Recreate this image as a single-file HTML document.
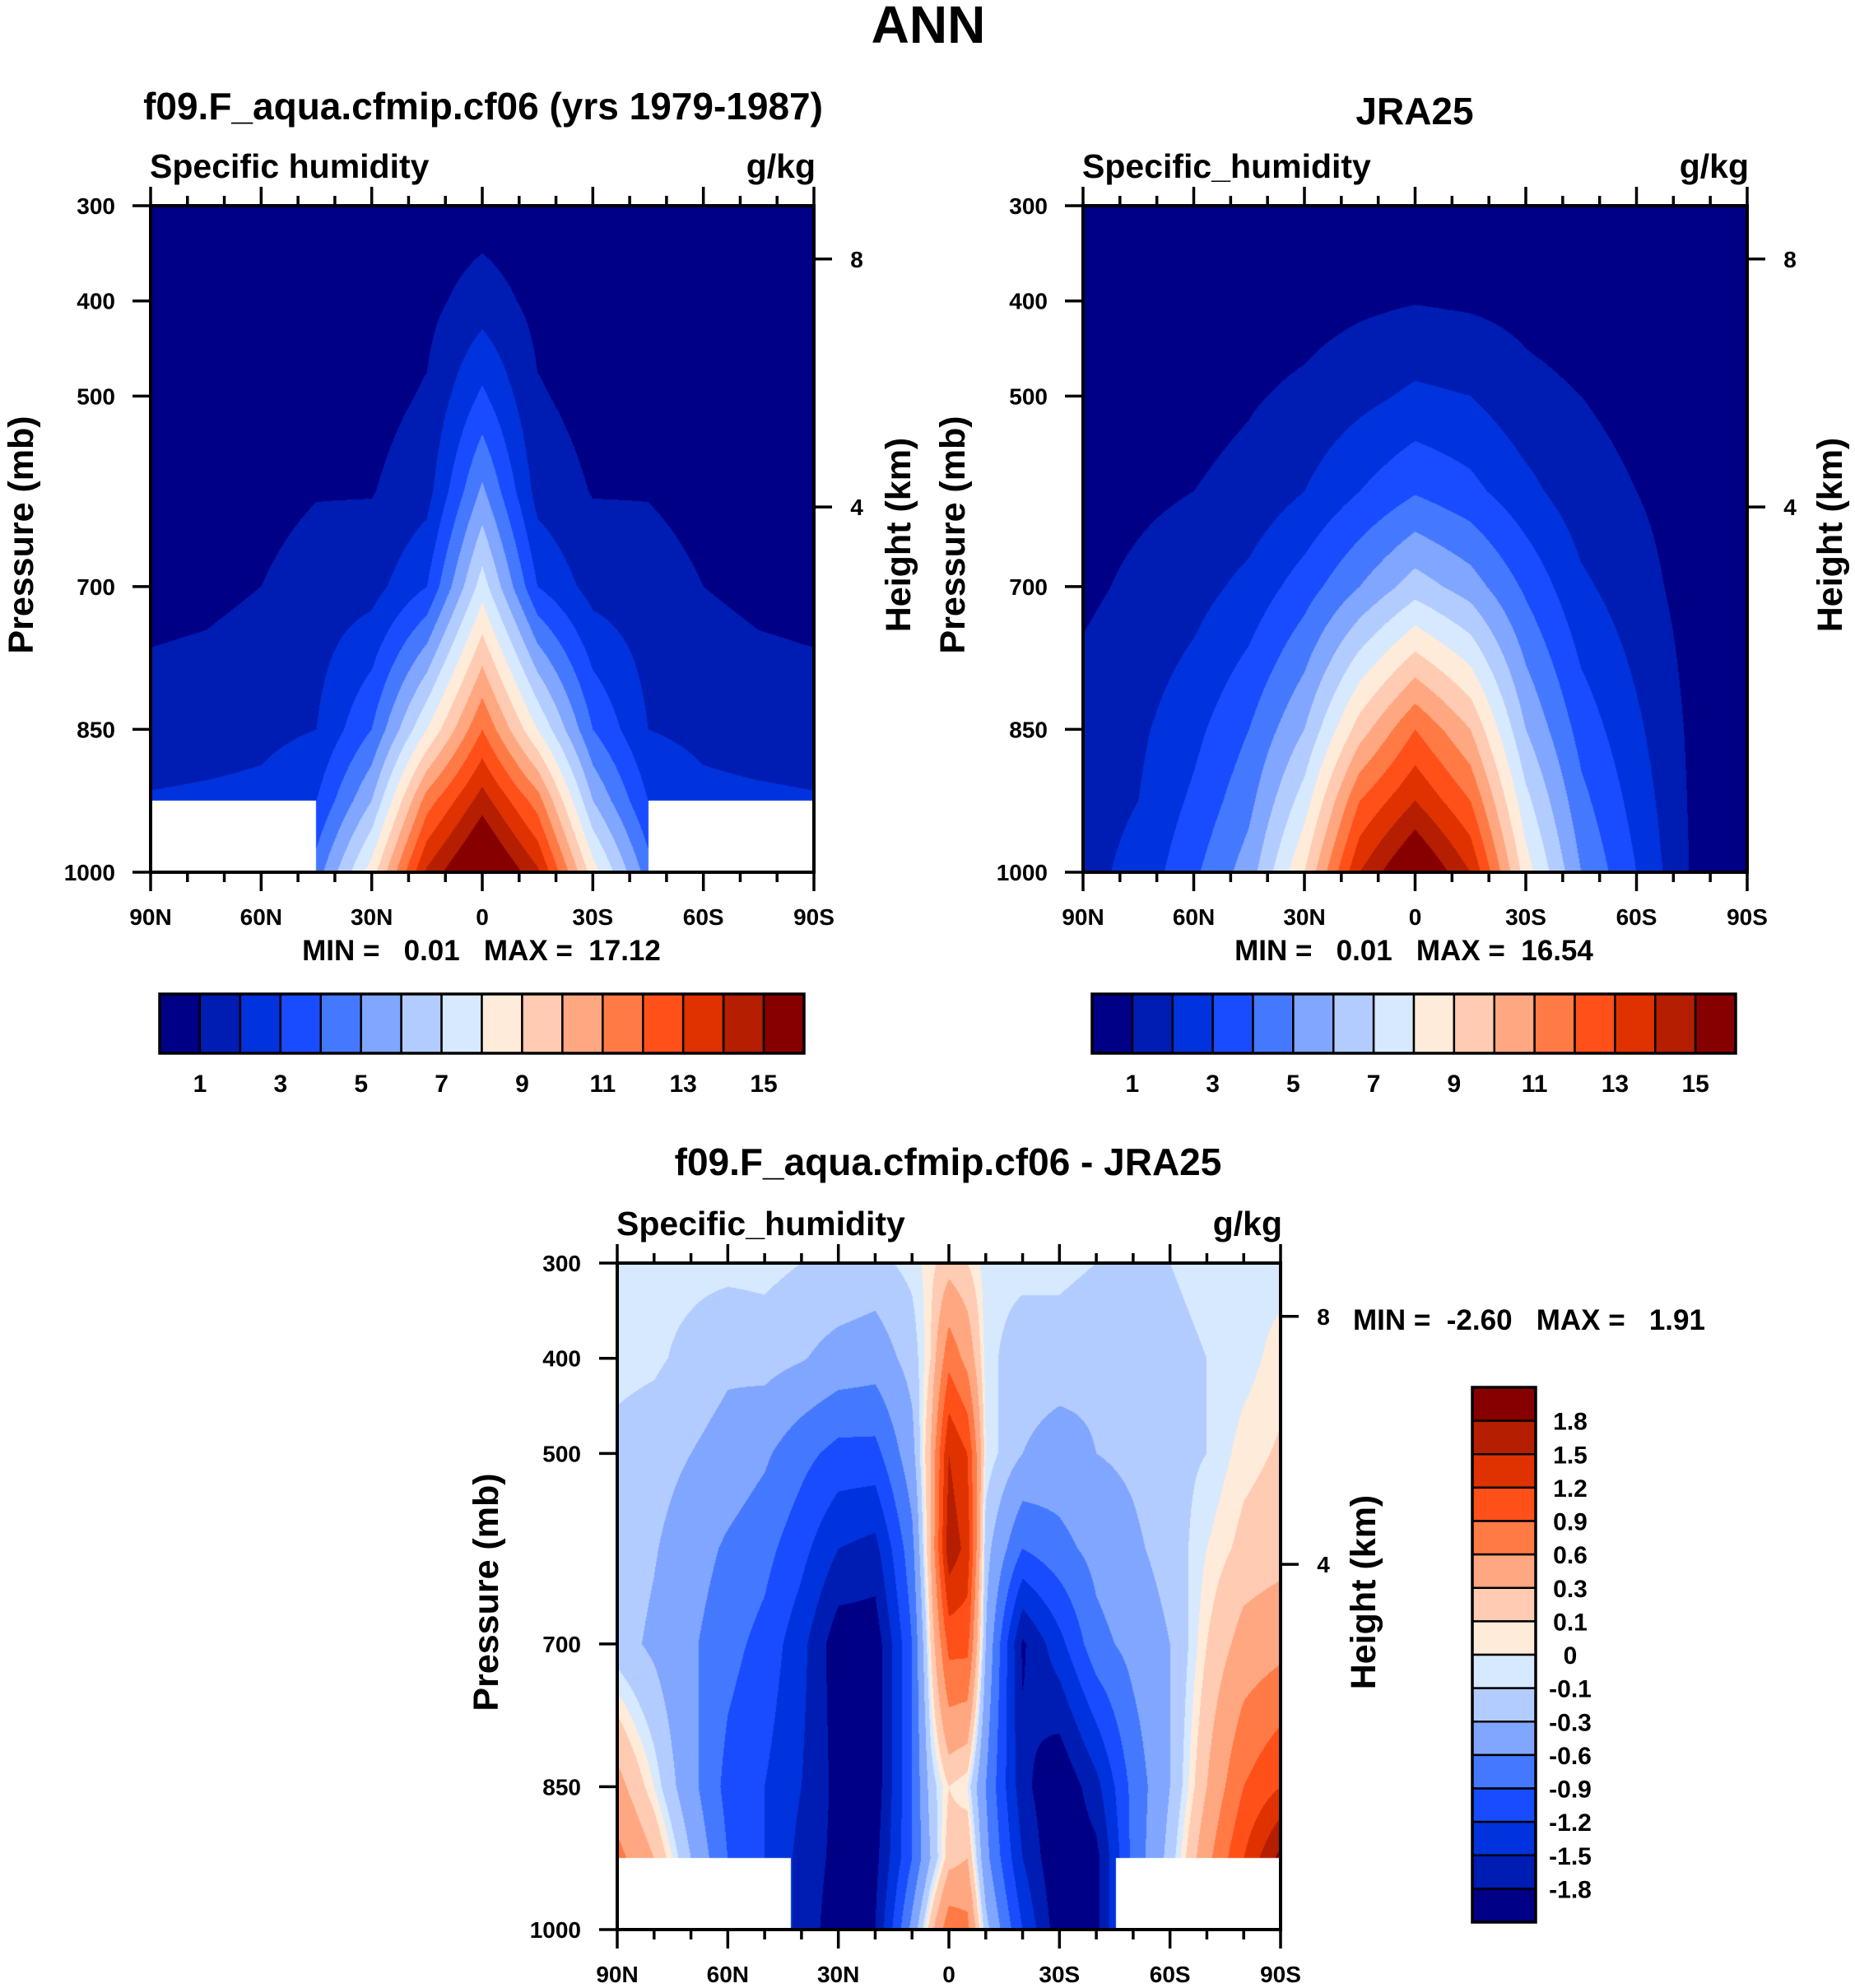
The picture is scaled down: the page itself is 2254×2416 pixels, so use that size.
<!DOCTYPE html>
<html><head><meta charset="utf-8"><title>ANN Specific humidity</title>
<style>
html,body{margin:0;padding:0;background:#fff;}
#root{position:relative;width:2254px;height:2416px;overflow:hidden;background:#fff;}
canvas{position:absolute;}
svg{position:absolute;left:0;top:0;}
text{font-family:"Liberation Sans",sans-serif;font-weight:bold;fill:#000;white-space:pre;}
</style></head>
<body>
<div id="root">
<canvas id="c1" style="left:183px;top:250px" width="806" height="810"></canvas>
<canvas id="c2" style="left:1316px;top:250px" width="807" height="810"></canvas>
<canvas id="c3" style="left:750px;top:1535px" width="806" height="810"></canvas>
<svg id="ov" width="2254" height="2416"></svg>
</div>
<script>
// ---------- data ----------
const pressures = [300, 400, 500, 600, 700, 850, 925, 1000];
const lats13 = [90, 75, 60, 45, 30, 15, 0, -15, -30, -45, -60, -75, -90];
const modelQ = [
 [0.3,0.3,0.3,0.3,0.3,0.35,0.5,0.35,0.3,0.3,0.3,0.3,0.3],
 [0.35,0.35,0.4,0.45,0.5,0.7,1.5,0.7,0.5,0.45,0.4,0.35,0.35],
 [0.45,0.5,0.55,0.6,0.65,1.1,3.2,1.1,0.65,0.6,0.55,0.5,0.45],
 [0.55,0.6,0.7,0.95,0.95,1.6,5.2,1.6,0.95,0.95,0.7,0.6,0.55],
 [0.7,0.78,1.0,1.4,1.6,3.0,7.5,3.0,1.6,1.4,1.0,0.78,0.7],
 [1.4,1.5,1.7,2.0,4.0,8.0,12,8.0,4.0,2.0,1.7,1.5,1.4],
 [2.1,2.2,2.3,3.0,6.0,11.5,14.5,11.5,6.0,3.0,2.3,2.2,2.1],
 [2.2,2.3,2.5,4.5,8.5,14.2,17,14.2,8.5,4.5,2.5,2.3,2.2]
];
const jraQ = [
 [0.3,0.3,0.3,0.3,0.3,0.35,0.4,0.35,0.3,0.3,0.3,0.3,0.3],
 [0.35,0.4,0.45,0.5,0.6,0.8,0.95,0.85,0.7,0.5,0.4,0.3,0.3],
 [0.5,0.55,0.65,0.9,1.2,1.7,2.2,2.0,1.3,1.0,0.7,0.45,0.35],
 [0.6,0.8,1.0,1.3,2.0,3.0,3.9,3.3,2.3,1.4,1.0,0.55,0.4],
 [0.8,1.2,1.6,2.3,3.5,5.0,6.5,5.5,3.8,2.2,1.4,0.6,0.45],
 [1.4,1.8,2.7,4.0,6.0,9.5,12,10,6.0,3.6,2.2,0.8,0.5],
 [1.6,2.0,3.2,4.7,7.5,12,14,12,7.3,4.3,2.6,0.85,0.5],
 [1.7,2.3,3.8,5.5,9.0,14,16.5,14,8.5,5.0,3.0,0.9,0.5]
];
const latsDiff = [90,80,70,60,50,40,30,20,10,5,0,-5,-10,-20,-30,-40,-50,-60,-70,-80,-90];
const diffQ = [
 [-0.05,-0.05,-0.05,-0.05,-0.05,-0.1,-0.1,-0.15,-0.05,0.05,0.2,0.1,-0.05,-0.05,-0.05,-0.1,-0.15,-0.1,-0.05,-0.05,-0.05],
 [-0.05,-0.07,-0.15,-0.25,-0.2,-0.28,-0.4,-0.45,-0.2,0.1,0.8,0.5,-0.05,-0.2,-0.2,-0.25,-0.2,-0.15,-0.1,-0.05,0.05],
 [-0.15,-0.2,-0.3,-0.4,-0.55,-0.8,-1.0,-1.0,-0.4,0.3,1.5,1.2,0.0,-0.3,-0.4,-0.3,-0.25,-0.15,-0.1,0.05,0.12],
 [-0.15,-0.28,-0.45,-0.65,-0.8,-1.1,-1.5,-1.6,-0.7,0.3,1.7,1.4,-0.2,-0.9,-0.7,-0.5,-0.35,-0.2,0.0,0.15,0.2],
 [-0.2,-0.35,-0.55,-0.8,-1.0,-1.4,-2.0,-2.0,-0.9,0.1,1.0,1.0,-0.3,-1.85,-1.3,-0.7,-0.5,-0.3,0.1,0.4,0.5],
 [0.4,0.0,-0.5,-1.0,-1.2,-1.5,-1.9,-2.0,-0.9,-0.2,0.1,0.0,-0.6,-1.7,-2.1,-1.6,-0.8,-0.3,0.3,0.9,1.2],
 [0.7,0.3,-0.3,-0.9,-1.2,-1.6,-1.9,-1.9,-0.9,-0.3,0.2,0.3,-0.5,-1.5,-2.1,-1.9,-0.8,-0.2,0.5,1.2,1.9],
 [0.7,0.3,-0.3,-0.9,-1.2,-1.6,-2.0,-1.8,-0.5,0.2,0.8,0.7,-0.2,-1.2,-2.0,-1.9,-0.8,-0.2,0.5,1.2,1.9]
];
const qLevels = [1,2,3,4,5,6,7,8,9,10,11,12,13,14,15];
const qLabels = ["1","3","5","7","9","11","13","15"];
const dLevels = [-1.8,-1.5,-1.2,-0.9,-0.6,-0.3,-0.1,0,0.1,0.3,0.6,0.9,1.2,1.5,1.8];
const dLabels = ["1.8","1.5","1.2","0.9","0.6","0.3","0.1","0","-0.1","-0.3","-0.6","-0.9","-1.2","-1.5","-1.8"];
const palette = ["#000087","#001db3","#0033dd","#1a4cff","#4479ff","#80a6ff","#b3ccff","#d6e9ff","#ffebd9","#ffcbb2","#ffa780","#ff7a45","#ff5019","#e03200","#b51e00","#870000"];
const pressTicks = [300,400,500,700,850,1000];
const heightTicks = [4,8];
const latTickLabels = ["90N","60N","30N","0","30S","60S","90S"];
const latTickValues = [90,60,30,0,-30,-60,-90];

// ---------- helpers ----------
function hex(c){return [parseInt(c.substr(1,2),16),parseInt(c.substr(3,2),16),parseInt(c.substr(5,2),16)];}
const palRGB = palette.map(hex);
function idx(arr, v, desc){
  for(let i=0;i<arr.length-1;i++){
    const a=arr[i], b=arr[i+1];
    if(desc ? (v<=a && v>=b) : (v>=a && v<=b)) return i;
  }
  return arr.length-2;
}
function interp(lats, vals, lat, p){
  const i = idx(lats, lat, true), j = idx(pressures, p, false);
  const tx = (lat - lats[i])/(lats[i+1]-lats[i]);
  const ty = (p - pressures[j])/(pressures[j+1]-pressures[j]);
  const v00=vals[j][i], v01=vals[j][i+1], v10=vals[j+1][i], v11=vals[j+1][i+1];
  return (v00*(1-tx)+v01*tx)*(1-ty) + (v10*(1-tx)+v11*tx)*ty;
}
function drawField(id, lats, vals, levels, mask){
  const cv=document.getElementById(id), ctx=cv.getContext('2d');
  const w=cv.width, h=cv.height, img=ctx.createImageData(w,h);
  for(let y=0;y<h;y++){
    const p = 300 + 700*(y+0.5)/h;
    for(let x=0;x<w;x++){
      const lat = 90 - 180*(x+0.5)/w;
      let r=255,g=255,b=255;
      const masked = mask && p>mask.p && (lat>mask.n || lat<mask.s);
      if(!masked){
        const v = interp(lats, vals, lat, p);
        let k=0; while(k<levels.length && v>=levels[k]) k++;
        [r,g,b]=palRGB[k];
      }
      const o=(y*w+x)*4; img.data[o]=r; img.data[o+1]=g; img.data[o+2]=b; img.data[o+3]=255;
    }
  }
  ctx.putImageData(img,0,0);
}
drawField('c1', lats13, modelQ, qLevels, {p:925, n:45, s:-45});
drawField('c2', lats13, jraQ, qLevels, null);
drawField('c3', latsDiff, diffQ, dLevels, {p:925, n:42.8, s:-45.4});

const NS='http://www.w3.org/2000/svg';
const ov=document.getElementById('ov');
function mk(tag, attrs, parent, name){
  const el=document.createElementNS(NS, tag);
  for(const k in attrs) el.setAttribute(k, attrs[k]);
  
  
  parent.appendChild(el);
  return el;
}
function txt(x,y,s,size,name,anchor,parent,rot){
  const t=mk('text',{x:x,y:y,'font-size':size,'text-anchor':anchor||'middle'},parent||ov,name);
  if(rot) t.setAttribute('transform','rotate(-90 '+x+' '+y+')');
  t.textContent=s;
  return t;
}
function pAt(zkm){return 1013.25*Math.pow(1-2.25577e-5*zkm*1000,5.25588);}

function axes(cfg){
  const g=mk('g',{},ov,cfg.name+'-axes');
  const L=cfg.left,T=cfg.top,W=cfg.w,H=cfg.h;
  const yP=p=>T+(p-300)/700*H;
  const xL=lat=>L+(90-lat)/180*W;
  for(let lat=90;lat>=-90;lat-=10){
    const major = lat%30===0, len = major?23:12, x=xL(lat);
    mk('line',{x1:x,y1:T+H,x2:x,y2:T+H+len,stroke:'#000','stroke-width':3.5},g,'x-tick-bottom');
    mk('line',{x1:x,y1:T,x2:x,y2:T-len,stroke:'#000','stroke-width':3.5},g,'x-tick-top');
  }
  latTickValues.forEach((lat,i)=>{ txt(xL(lat), T+H+64, latTickLabels[i], 28, 'x-tick-label', 'middle', g); });
  pressTicks.forEach(p=>{
    mk('line',{x1:L,y1:yP(p),x2:L-22,y2:yP(p),stroke:'#000','stroke-width':3.5},g,'y-tick-left');
    txt(cfg.plx, yP(p)+10, String(p), 28, 'y-tick-label', 'end', g);
  });
  heightTicks.forEach(z=>{
    const y=yP(pAt(z));
    mk('line',{x1:L+W,y1:y,x2:L+W+22,y2:y,stroke:'#000','stroke-width':3.5},g,'height-tick');
    txt(L+W+52, y+10, String(z), 28, 'height-tick-label', 'middle', g);
  });
  mk('rect',{x:L,y:T,width:W,height:H,fill:'none',stroke:'#000','stroke-width':4},g,'plot-frame');
  txt(cfg.ptx, T+H/2-5, 'Pressure (mb)', 43, 'y-axis-title', 'middle', g, true);
  txt(cfg.htx, T+H/2-5, 'Height (km)', 43, 'right-axis-title', 'middle', g, true);
  txt(L-1, T-34, cfg.var, 41, 'variable-name', 'start', g);
  txt(L+W+2, T-34, 'g/kg', 41, 'units-label', 'end', g);
}
axes({name:'model',left:183,top:250,w:806,h:810,plx:140,ptx:40,htx:1106,var:'Specific humidity'});
axes({name:'jra25',left:1316,top:250,w:807,h:810,plx:1273,ptx:1172,htx:2238,var:'Specific_humidity'});
axes({name:'diff',left:750,top:1535,w:806,h:810,plx:706,ptx:605,htx:1671,var:'Specific_humidity'});

txt(1128, 52, 'ANN', 64, 'figure-title');
txt(587, 145, 'f09.F_aqua.cfmip.cf06 (yrs 1979-1987)', 46, 'model-panel-title');
txt(1719, 151, 'JRA25', 46, 'jra25-panel-title');
txt(1152, 1428, 'f09.F_aqua.cfmip.cf06 - JRA25', 46, 'diff-panel-title');
txt(585, 1167, 'MIN =   0.01   MAX =  17.12', 35, 'model-min-max');
txt(1718, 1167, 'MIN =   0.01   MAX =  16.54', 35, 'jra25-min-max');
txt(1644, 1616, 'MIN =  -2.60   MAX =   1.91', 35, 'diff-min-max', 'start');

function hbar(x0,x1,y0,y1,name){
  const g=mk('g',{},ov,name);
  const n=palette.length, bw=(x1-x0)/n;
  palette.forEach((c,i)=>{
    mk('rect',{x:x0+i*bw,y:y0,width:bw,height:y1-y0,fill:c,stroke:'#000','stroke-width':2.5},g,'colorbar-box');
  });
  qLabels.forEach((s,i)=>{
    const k=2*i+1; txt(x0+k*bw, y1+47, s, 30, 'colorbar-label', 'middle', g);
  });
  mk('rect',{x:x0,y:y0,width:x1-x0,height:y1-y0,fill:'none',stroke:'#000','stroke-width':3.5},g,'colorbar-frame');
}
hbar(194,977,1208,1280,'model-colorbar');
hbar(1327,2109,1208,1280,'jra25-colorbar');
(function(){
  const g=mk('g',{},ov,'diff-colorbar');
  const x0=1789,x1=1866,y0=1686,y1=2336,n=palette.length,bh=(y1-y0)/n;
  for(let i=0;i<n;i++){
    mk('rect',{x:x0,y:y0+i*bh,width:x1-x0,height:bh,fill:palette[n-1-i],stroke:'#000','stroke-width':2.5},g,'colorbar-box');
  }
  dLabels.forEach((s,i)=>{ txt(1908, y0+(i+1)*bh+11, s, 30, 'colorbar-label', 'middle', g); });
  mk('rect',{x:x0,y:y0,width:x1-x0,height:y1-y0,fill:'none',stroke:'#000','stroke-width':3.5},g,'colorbar-frame');
})();
</script>
</body></html>
